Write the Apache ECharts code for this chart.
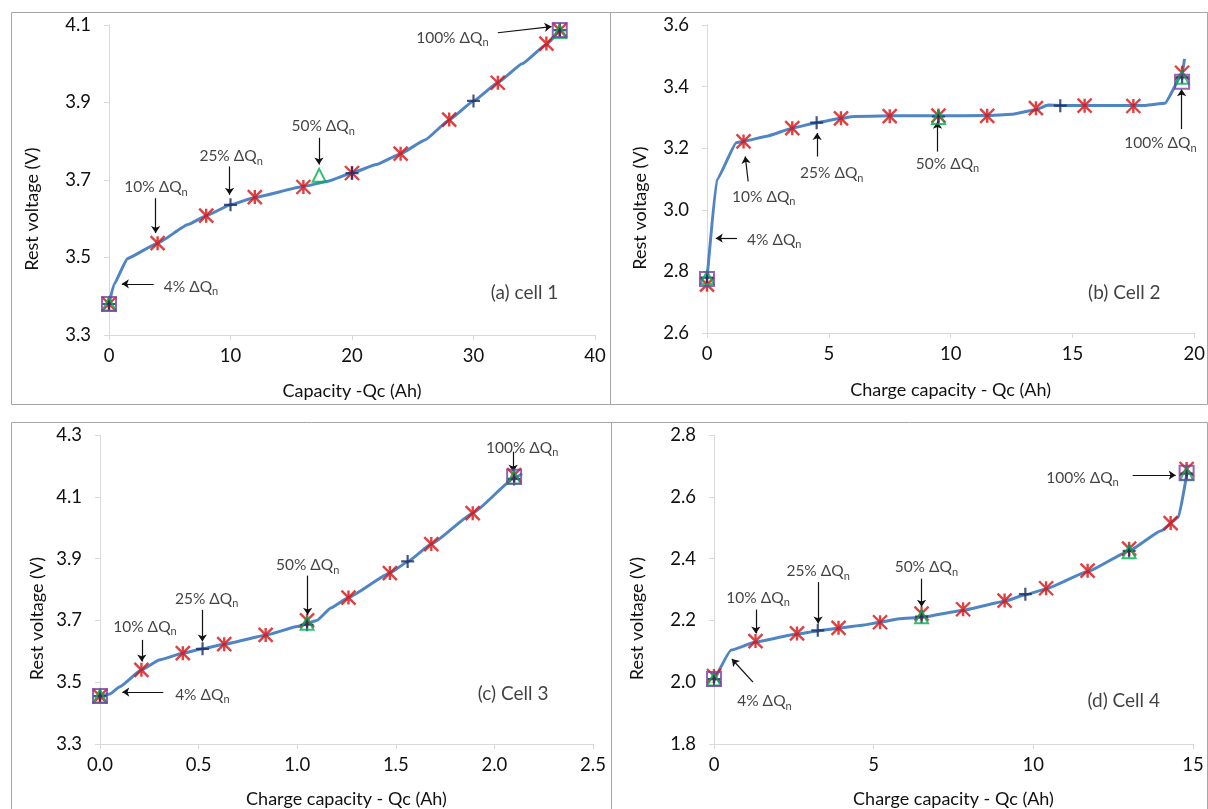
<!DOCTYPE html>
<html>
<head>
<meta charset="utf-8">
<script src="https://cdn.jsdelivr.net/npm/echarts@6/dist/echarts.min.js"></script>
<style>
  html, body { margin: 0; padding: 0; background: #fff; }
  #chart { width: 1208px; height: 809px; }
</style>
</head>
<body>
<div id="chart"></div>
<script>
// ---- data: [capacity Ah, rest voltage V] ----
const curveA = [[0, 3.38], [0.4, 3.43], [1.5, 3.497], [4, 3.537], [6.5, 3.585], [8, 3.608], [10, 3.636], [12, 3.655], [16, 3.683], [18, 3.697], [20, 3.718], [22, 3.74], [24, 3.768], [26, 3.803], [28, 3.855], [30, 3.904], [32, 3.951], [34, 4.0], [36, 4.05], [37.1, 4.087]];
const starA = [[0, 3.38], [4, 3.537], [8, 3.608], [12, 3.656], [16, 3.682], [20, 3.718], [24, 3.768], [28, 3.856], [32, 3.951], [36, 4.052], [37.1, 4.087]];
const plusA = [[0, 3.38], [10, 3.636], [20, 3.718], [30, 3.904], [37.1, 4.087]];
const triA = [[0, 3.38], [17.3, 3.712], [37.1, 4.083]];
const squareA = [[0, 3.38], [37.1, 4.087]];

const curveB = [[0, 2.775], [0.4, 3.097], [1.2, 3.218], [1.5, 3.222], [2.5, 3.24], [3.5, 3.265], [4.5, 3.283], [5.5, 3.297], [6, 3.303], [7.5, 3.305], [9.5, 3.305], [11.5, 3.306], [12.5, 3.31], [13.5, 3.325], [14, 3.34], [14.5, 3.339], [15.5, 3.339], [17.5, 3.339], [18, 3.339], [18.8, 3.346], [19.5, 3.44], [19.6, 3.49]];
const starB = [[0, 2.757], [1.5, 3.222], [3.5, 3.265], [5.5, 3.297], [7.5, 3.304], [9.5, 3.306], [11.5, 3.305], [13.5, 3.33], [15.5, 3.338], [17.5, 3.337], [19.5, 3.445]];
const plusB = [[0, 2.78], [4.5, 3.283], [9.5, 3.303], [14.5, 3.338], [19.5, 3.43]];
const triB = [[0, 2.78], [9.5, 3.3], [19.5, 3.43]];
const squareB = [[0, 2.775], [19.5, 3.416]];

const curveC = [[0, 3.455], [0.05, 3.462], [0.1, 3.485], [0.21, 3.54], [0.3, 3.572], [0.42, 3.594], [0.52, 3.608], [0.63, 3.623], [0.84, 3.652], [1.0, 3.68], [1.1, 3.7], [1.17, 3.74], [1.26, 3.774], [1.47, 3.853], [1.56, 3.89], [1.68, 3.947], [1.89, 4.047], [2.1, 4.16], [2.14, 4.175]];
const starC = [[0, 3.455], [0.21, 3.54], [0.42, 3.594], [0.63, 3.623], [0.84, 3.653], [1.05, 3.7], [1.26, 3.774], [1.47, 3.853], [1.68, 3.947], [1.89, 4.047], [2.1, 4.17]];
const plusC = [[0, 3.455], [0.52, 3.608], [1.05, 3.686], [1.56, 3.891], [2.1, 4.158]];
const triC = [[0, 3.455], [1.05, 3.691], [2.1, 4.163]];
const squareC = [[0, 3.455], [2.1, 4.165]];

const curveD = [[0, 2.005], [0.54, 2.104], [1.3, 2.13], [2.6, 2.156], [3.25, 2.166], [3.9, 2.175], [4.7, 2.185], [5.2, 2.194], [5.8, 2.205], [6.5, 2.21], [7.8, 2.233], [9.1, 2.262], [9.75, 2.283], [10.4, 2.302], [11.7, 2.358], [13.0, 2.425], [14.0, 2.49], [14.55, 2.535], [14.8, 2.67]];
const starD = [[0, 2.02], [1.3, 2.133], [2.6, 2.158], [3.9, 2.176], [5.2, 2.194], [6.5, 2.222], [7.8, 2.236], [9.1, 2.264], [10.4, 2.304], [11.7, 2.361], [13.0, 2.432], [14.3, 2.515], [14.8, 2.69]];
const plusD = [[0, 2.01], [3.25, 2.168], [6.5, 2.212], [9.75, 2.285], [13.0, 2.425], [14.8, 2.675]];
const triD = [[0, 2.01], [6.5, 2.212], [13.0, 2.422], [14.8, 2.675]];
const squareD = [[0, 2.01], [14.8, 2.678]];

// annotation texts [x, y, text] and arrows [x1, y1, x2, y2], in data units
const notesA = [[3.87, 3.682, '10% ΔQ'], [10.05, 3.761, '25% ΔQ'], [17.63, 3.839, '50% ΔQ'], [6.75, 3.425, '4% ΔQ'], [28.26, 4.067, '100% ΔQ'], [34.2, 3.408, '(a) cell 1']];
const arrowsA = [[3.84, 3.653, 3.84, 3.563], [9.92, 3.735, 9.92, 3.662], [17.28, 3.809, 17.28, 3.74], [3.68, 3.432, 1.06, 3.432], [32.0, 4.08, 36.42, 4.096]];
const notesB = [[2.33, 3.043, '10% ΔQ'], [5.12, 3.119, '25% ΔQ'], [9.87, 3.149, '50% ΔQ'], [2.76, 2.903, '4% ΔQ'], [18.61, 3.216, '100% ΔQ'], [17.13, 2.73, '(b) Cell 2']];
const arrowsB = [[1.69, 3.092, 1.57, 3.173], [4.52, 3.173, 4.52, 3.249], [9.46, 3.189, 9.46, 3.286], [1.23, 2.908, 0.36, 2.908], [19.48, 3.262, 19.48, 3.391]];
const notesC = [[0.228, 3.68, '10% ΔQ'], [0.541, 3.77, '25% ΔQ'], [1.053, 3.878, '50% ΔQ'], [0.519, 3.459, '4% ΔQ'], [2.141, 4.259, '100% ΔQ'], [2.095, 3.462, '(c) Cell 3']];
const arrowsC = [[0.212, 3.637, 0.212, 3.567], [0.519, 3.734, 0.519, 3.632], [1.053, 3.845, 1.053, 3.718], [0.321, 3.468, 0.113, 3.468], [2.095, 4.246, 2.095, 4.181]];
const notesD = [[1.38, 2.274, '10% ΔQ'], [3.26, 2.359, '25% ΔQ'], [6.65, 2.372, '50% ΔQ'], [1.58, 1.939, '4% ΔQ'], [11.54, 2.661, '100% ΔQ'], [12.83, 1.939, '(d) Cell 4']];
const arrowsD = [[1.31, 2.235, 1.31, 2.158], [3.26, 2.324, 3.26, 2.19], [6.5, 2.335, 6.5, 2.244], [1.22, 2.0, 0.56, 2.075], [13.11, 2.67, 14.46, 2.67]];

// axis ranges [min, max, interval]
const xRanges = [[0, 40, 10], [0, 20, 5], [0, 2.5, 0.5], [0, 15, 5]];
const yRanges = [[3.3, 4.1, 0.2], [2.6, 3.6, 0.2], [3.3, 4.3, 0.2], [1.8, 2.8, 0.2]];
const xNames = ['Capacity -Qc (Ah)', 'Charge capacity - Qc (Ah)', 'Charge capacity - Qc (Ah)', 'Charge capacity - Qc (Ah)'];
const yName = 'Rest voltage (V)';

const curves = [curveA, curveB, curveC, curveD];
const stars = [starA, starB, starC, starD];
const pluses = [plusA, plusB, plusC, plusD];
const tris = [triA, triB, triC, triD];
const squares = [squareA, squareB, squareC, squareD];
const notes = [notesA, notesB, notesC, notesD];
const arrows = [arrowsA, arrowsB, arrowsC, arrowsD];

const FONT = 'Lato';
const TXT = '#111';
const STAR = 'path://M0,0L10,10M10,0L0,10M5,0L5,10';
const PLUS = 'path://M5,0L5,10M0,5L10,5';

const grids = [
  { left: 109, top: 25, width: 486, height: 310 },
  { left: 707, top: 25, width: 488, height: 308 },
  { left: 100, top: 435, width: 493, height: 309 },
  { left: 714, top: 435, width: 479, height: 312 }
];
const xGaps = [47, 48, 46, 46];
const yGaps = [68, 58, 54, 68];

let xAxes = [];
let yAxes = [];
let series = [];

for (let i = 0; i < 4; i++) {
  const xr = xRanges[i];
  const yr = yRanges[i];
  const axisCommon = {
    type: 'value',
    gridIndex: i,
    axisLine: { show: true, lineStyle: { color: '#d9d9d9', width: 1 } },
    axisTick: { show: true, length: 5, lineStyle: { color: '#d9d9d9' } },
    splitLine: { show: false },
    nameLocation: 'middle'
  };
  xAxes.push(Object.assign({}, axisCommon, {
    min: xr[0], max: xr[1], interval: xr[2],
    name: xNames[i],
    nameGap: xGaps[i],
    nameTextStyle: { fontFamily: FONT, fontSize: 18, color: TXT },
    axisLabel: {
      fontFamily: FONT, fontSize: 18.5, color: TXT, margin: 12,
      formatter: v => (i === 2 ? v.toFixed(1) : String(Math.round(v)))
    }
  }));
  yAxes.push(Object.assign({}, axisCommon, {
    min: yr[0], max: yr[1], interval: yr[2],
    name: yName,
    nameGap: yGaps[i],
    nameTextStyle: { fontFamily: FONT, fontSize: 18, color: TXT, padding: [0, 58, 0, 0] },
    axisLabel: {
      fontFamily: FONT, fontSize: 18.5, color: TXT, margin: 18,
      formatter: v => v.toFixed(1)
    }
  }));

  series.push({
    type: 'line', xAxisIndex: i, yAxisIndex: i,
    data: curves[i], showSymbol: false, smooth: 0.12, smoothMonotone: 'x',
    lineStyle: { color: '#5085c4', width: 3 }, z: 2
  });
  series.push({
    type: 'scatter', xAxisIndex: i, yAxisIndex: i, data: stars[i],
    symbol: STAR, symbolSize: 14,
    itemStyle: { color: 'transparent', borderColor: '#d81010', borderWidth: 2.4 }, z: 3
  });
  series.push({
    type: 'scatter', xAxisIndex: i, yAxisIndex: i, data: pluses[i],
    symbol: PLUS, symbolSize: 13,
    itemStyle: { color: 'transparent', borderColor: '#172a63', borderWidth: 2.2 }, z: 4
  });
  series.push({
    type: 'scatter', xAxisIndex: i, yAxisIndex: i, data: tris[i],
    symbol: 'triangle', symbolSize: 13,
    itemStyle: { color: 'transparent', borderColor: '#00b050', borderWidth: 2 }, z: 5
  });
  series.push({
    type: 'scatter', xAxisIndex: i, yAxisIndex: i, data: squares[i],
    symbol: 'rect', symbolSize: 14,
    itemStyle: { color: 'transparent', borderColor: '#7a3fa6', borderWidth: 2 }, z: 6
  });
  series.push({
    type: 'scatter', xAxisIndex: i, yAxisIndex: i, data: notes[i],
    symbolSize: 1, itemStyle: { color: 'transparent' }, z: 7,
    label: {
      show: true, position: 'inside',
      formatter: p => p.value[2].indexOf('ΔQ') >= 0 ? '{t|' + p.value[2] + '}{n|n}' : '{p|' + p.value[2] + '}',
      rich: {
        t: { fontFamily: FONT, fontSize: 15.5, color: TXT },
        n: { fontFamily: FONT, fontSize: 11, color: TXT, padding: [10, 0, 0, 0] },
        p: { fontFamily: FONT, fontSize: 19, color: TXT }
      }
    },
    markLine: {
      silent: true, animation: false,
      symbol: ['none', 'arrow'], symbolSize: 7,
      lineStyle: { color: '#111', width: 1.2, type: 'solid' },
      label: { show: false },
      data: arrows[i].map(a => [{ coord: [a[0], a[1]] }, { coord: [a[2], a[3]] }])
    }
  });
}

const chart = echarts.init(document.getElementById('chart'));
chart.setOption({
  backgroundColor: '#ffffff',
  animation: false,
  grid: grids,
  xAxis: xAxes,
  yAxis: yAxes,
  series: series,
  graphic: [
    { type: 'rect', shape: { x: 11.5, y: 12.5, width: 599, height: 392 }, style: { fill: 'none', stroke: '#a6a6a6', lineWidth: 1 }, silent: true },
    { type: 'rect', shape: { x: 610.5, y: 12.5, width: 597, height: 392 }, style: { fill: 'none', stroke: '#a6a6a6', lineWidth: 1 }, silent: true },
    { type: 'rect', shape: { x: 11.5, y: 422.5, width: 600, height: 400 }, style: { fill: 'none', stroke: '#a6a6a6', lineWidth: 1 }, silent: true },
    { type: 'rect', shape: { x: 611.5, y: 422.5, width: 596, height: 400 }, style: { fill: 'none', stroke: '#a6a6a6', lineWidth: 1 }, silent: true }
  ]
});
</script>
</body>
</html>
